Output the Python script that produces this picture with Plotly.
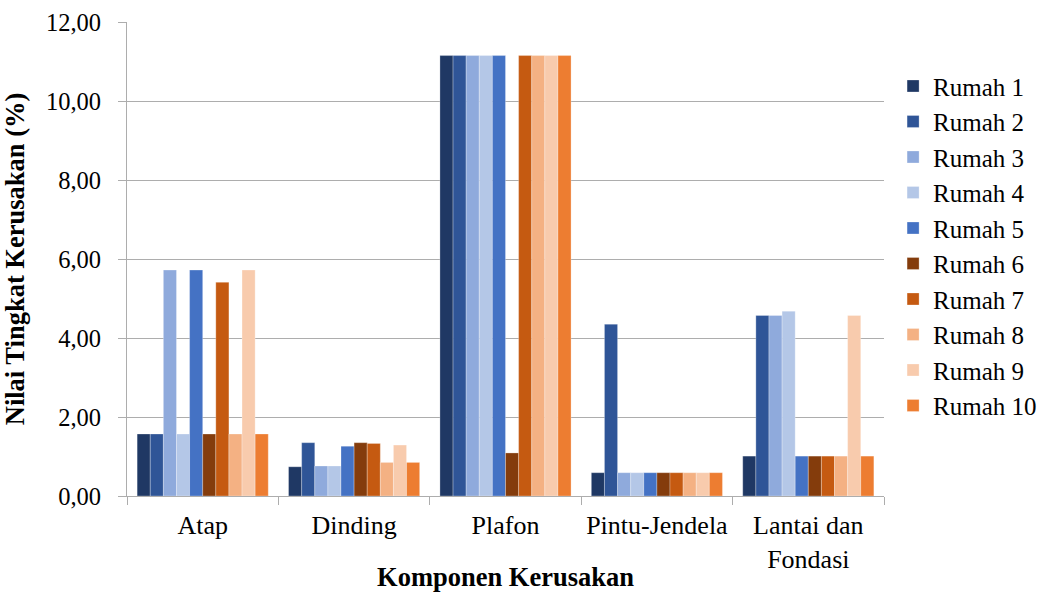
import plotly.graph_objects as go

categories = ["Atap", "Dinding", "Plafon", "Pintu-Jendela", "Lantai dan<br>Fondasi"]
series_names = ["Rumah 1", "Rumah 2", "Rumah 3", "Rumah 4", "Rumah 5",
                "Rumah 6", "Rumah 7", "Rumah 8", "Rumah 9", "Rumah 10"]

# values per house, in category order: Atap, Dinding, Plafon, Pintu-Jendela, Lantai dan Fondasi
rumah_1 = [1.57, 0.74, 11.15, 0.59, 1.01]
rumah_2 = [1.57, 1.35, 11.15, 4.35, 4.57]
rumah_3 = [5.72, 0.76, 11.15, 0.59, 4.57]
rumah_4 = [1.57, 0.76, 11.15, 0.59, 4.68]
rumah_5 = [5.72, 1.26, 11.15, 0.59, 1.01]
rumah_6 = [1.57, 1.35, 1.09, 0.59, 1.01]
rumah_7 = [5.41, 1.33, 11.15, 0.59, 1.01]
rumah_8 = [1.57, 0.85, 11.15, 0.59, 1.01]
rumah_9 = [5.72, 1.29, 11.15, 0.59, 4.57]
rumah_10 = [1.57, 0.85, 11.15, 0.59, 1.01]

series_values = [rumah_1, rumah_2, rumah_3, rumah_4, rumah_5,
                 rumah_6, rumah_7, rumah_8, rumah_9, rumah_10]

colors = ["#1F3864", "#2F5597", "#8FAADC", "#B4C7E7", "#4472C4",
          "#843C0C", "#C55A11", "#F4B183", "#F8CBAD", "#ED7D31"]

y_ticks = [0, 2, 4, 6, 8, 10, 12]

FONT = "Liberation Serif"
GRID = "#ADADAD"

fig = go.Figure()
for i, (name, vals) in enumerate(zip(series_names, series_values)):
    fig.add_trace(go.Bar(
        x=categories, y=vals, name=name,
        marker=dict(color=colors[i],
                    line=dict(color="rgba(255,255,255,0.35)", width=0.8)),
    ))

fig.update_layout(
    width=1054, height=592,
    margin=dict(l=127, r=165, t=22, b=96),
    paper_bgcolor="white", plot_bgcolor="white",
    barmode="group", bargap=0.134, bargroupgap=0,
    separators=",.",
    font=dict(family=FONT, size=24, color="black"),
    showlegend=True,
    legend=dict(x=1.012, y=0.528, xanchor="left", yanchor="middle",
                font=dict(family=FONT, size=25, color="black"),
                itemwidth=30, bgcolor="rgba(0,0,0,0)"),
    xaxis=dict(
        title=dict(text="<b>Komponen Kerusakan</b>", font=dict(family=FONT, size=26.5)),
        automargin=False, tickangle=0,
        showline=True, linecolor=GRID, linewidth=1,
        ticks="outside", tickson="boundaries", ticklen=8, tickcolor=GRID,
        tickfont=dict(family=FONT, size=26),
        ticklabelstandoff=6,
        showgrid=False,
    ),
    yaxis=dict(
        title=dict(text="<b>Nilai Tingkat Kerusakan (%)</b>", font=dict(family=FONT, size=26.5)),
        automargin=False,
        range=[0, 12], tickvals=y_ticks, tickformat=".2f",
        showline=True, linecolor=GRID, linewidth=1,
        ticks="outside", ticklen=8, tickcolor=GRID,
        ticklabelstandoff=12,
        showgrid=True, gridcolor=GRID, gridwidth=1,
        zeroline=False,
        tickfont=dict(family=FONT, size=24.5),
    ),
)

fig.write_html("out.html")
